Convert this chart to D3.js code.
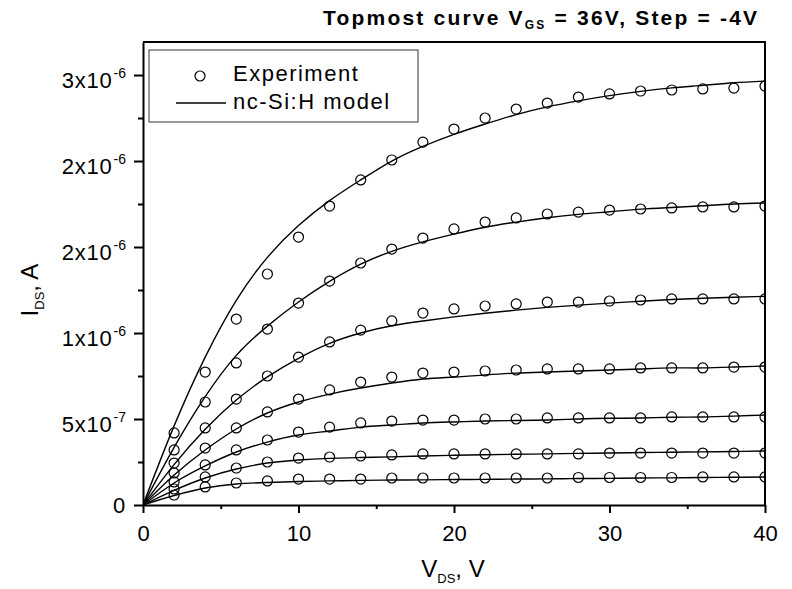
<!DOCTYPE html>
<html>
<head>
<meta charset="utf-8">
<script src="https://cdn.jsdelivr.net/npm/d3@7"></script>
<style>
  body { margin: 0; background: #fff; }
  svg { display: block; font-family: 'Liberation Sans', Arial, sans-serif; }
</style>
</head>
<body>
<script>
// drain voltage of the measured points, V
const vdsExp = [2, 4, 6, 8, 10, 12, 14, 16, 18, 20, 22, 24, 26, 28, 30, 32, 34, 36, 38, 40]
// measured drain current, uA (VGS = 36, 32, ... 12 V)
const exp36 = [0.419, 0.773, 1.081, 1.343, 1.558, 1.738, 1.890, 2.006, 2.110, 2.186, 2.250, 2.302, 2.337, 2.372, 2.390, 2.407, 2.413, 2.419, 2.424, 2.436]
const exp32 = [0.320, 0.599, 0.826, 1.023, 1.174, 1.302, 1.407, 1.488, 1.552, 1.605, 1.645, 1.669, 1.692, 1.703, 1.715, 1.721, 1.727, 1.733, 1.733, 1.738]
const exp28 = [0.244, 0.448, 0.616, 0.750, 0.860, 0.948, 1.017, 1.070, 1.116, 1.140, 1.157, 1.169, 1.180, 1.180, 1.186, 1.192, 1.198, 1.198, 1.198, 1.198]
const exp24 = [0.186, 0.331, 0.448, 0.541, 0.616, 0.669, 0.715, 0.744, 0.767, 0.773, 0.779, 0.785, 0.791, 0.791, 0.791, 0.797, 0.797, 0.797, 0.802, 0.802]
const exp20 = [0.134, 0.233, 0.320, 0.378, 0.424, 0.453, 0.477, 0.488, 0.494, 0.494, 0.500, 0.500, 0.506, 0.506, 0.506, 0.506, 0.512, 0.512, 0.512, 0.512]
const exp16 = [0.093, 0.163, 0.215, 0.250, 0.273, 0.279, 0.285, 0.291, 0.297, 0.297, 0.297, 0.297, 0.297, 0.297, 0.302, 0.302, 0.302, 0.302, 0.302, 0.302]
const exp12 = [0.058, 0.105, 0.128, 0.140, 0.151, 0.151, 0.151, 0.157, 0.157, 0.157, 0.157, 0.157, 0.157, 0.160, 0.160, 0.160, 0.160, 0.163, 0.163, 0.163]

// model curves, uA
const vdsModel = [0, 2, 4, 6, 8, 10, 12, 14, 16, 18, 20, 22, 24, 26, 28, 30, 32, 34, 36, 38, 40]
const mod36 = [0, 0.46, 0.86, 1.19, 1.44, 1.625, 1.77, 1.89, 2.0, 2.085, 2.155, 2.215, 2.27, 2.315, 2.35, 2.38, 2.405, 2.425, 2.44, 2.455, 2.465]
const mod32 = [0, 0.335, 0.63, 0.87, 1.04, 1.18, 1.30, 1.40, 1.475, 1.53, 1.575, 1.615, 1.645, 1.67, 1.69, 1.705, 1.72, 1.73, 1.74, 1.75, 1.756]
const mod28 = [0, 0.235, 0.44, 0.61, 0.745, 0.853, 0.94, 1.0, 1.042, 1.07, 1.094, 1.115, 1.133, 1.149, 1.162, 1.174, 1.185, 1.195, 1.202, 1.208, 1.213]
const mod24 = [0, 0.174, 0.320, 0.442, 0.535, 0.599, 0.645, 0.680, 0.709, 0.733, 0.744, 0.756, 0.767, 0.773, 0.779, 0.785, 0.791, 0.797, 0.797, 0.802, 0.808]
const mod20 = [0, 0.128, 0.227, 0.308, 0.366, 0.407, 0.430, 0.453, 0.465, 0.477, 0.483, 0.488, 0.491, 0.494, 0.500, 0.504, 0.506, 0.510, 0.512, 0.517, 0.523]
const mod16 = [0, 0.085, 0.157, 0.209, 0.244, 0.262, 0.271, 0.276, 0.280, 0.285, 0.289, 0.292, 0.295, 0.297, 0.300, 0.302, 0.305, 0.307, 0.309, 0.311, 0.314]
const mod12 = [0, 0.055, 0.099, 0.122, 0.131, 0.137, 0.140, 0.143, 0.145, 0.146, 0.148, 0.149, 0.151, 0.152, 0.154, 0.155, 0.157, 0.158, 0.160, 0.161, 0.163]

const expSeries = [exp36, exp32, exp28, exp24, exp20, exp16, exp12]
const modSeries = [mod36, mod32, mod28, mod24, mod20, mod16, mod12]

// axis ticks
const xMajor = [0, 10, 20, 30, 40]
const xMinor = [5, 15, 25, 35]
const yMajor = [0, 0.5e-6, 1e-6, 1.5e-6, 2e-6, 2.5e-6]
const yMinor = [0.25e-6, 0.75e-6, 1.25e-6, 1.75e-6, 2.25e-6]
const yTickBase = ['0', '5x10', '1x10', '2x10', '2x10', '3x10']
const yTickExp = ['', '-7', '-6', '-6', '-6', '-6']

const width = 792
const height = 589
const plotLeft = 143
const plotRight = 765
const plotTop = 42
const plotBottom = 505

const x = d3.scaleLinear().domain([0, 40]).range([plotLeft, plotRight])
const y = d3.scaleLinear().domain([0, 2.692e-6]).range([plotBottom, plotTop])

const svg = d3.select('body').append('svg')
  .attr('width', width)
  .attr('height', height)

svg.append('defs').append('clipPath').attr('id', 'plot')
  .append('rect')
  .attr('x', plotLeft).attr('y', plotTop)
  .attr('width', plotRight - plotLeft).attr('height', plotBottom - plotTop)

const plot = svg.append('g').attr('clip-path', 'url(#plot)')

const line = d3.line()
  .x((d, i) => x(vdsModel[i]))
  .y(d => y(d * 1e-6))
  .curve(d3.curveNatural)

plot.selectAll('path.model')
  .data(modSeries)
  .enter()
  .append('path')
  .attr('class', 'model')
  .attr('d', line)
  .attr('fill', 'none')
  .attr('stroke', '#000')
  .attr('stroke-width', 1.4)

expSeries.forEach(s => {
  plot.append('g').selectAll('circle')
    .data(s)
    .enter()
    .append('circle')
    .attr('cx', (d, i) => x(vdsExp[i]))
    .attr('cy', d => y(d * 1e-6))
    .attr('r', 5)
    .attr('fill', 'none')
    .attr('stroke', '#000')
    .attr('stroke-width', 1.2)
})

// frame top / right
svg.append('path')
  .attr('d', `M${plotLeft},${plotTop}H${plotRight}V${plotBottom}`)
  .attr('fill', 'none')
  .attr('stroke', '#000')
  .attr('stroke-width', 2)

// minor ticks first, majors on top
svg.append('g')
  .attr('transform', `translate(0,${plotBottom})`)
  .call(d3.axisBottom(x).tickValues(xMinor).tickSize(4).tickFormat(''))
  .call(g => g.select('.domain').remove())
svg.append('g')
  .attr('transform', `translate(${plotLeft},0)`)
  .call(d3.axisLeft(y).tickValues(yMinor).tickSize(5).tickFormat(''))
  .call(g => g.select('.domain').remove())

const xAxis = svg.append('g')
  .attr('transform', `translate(0,${plotBottom})`)
  .call(d3.axisBottom(x).tickValues(xMajor).tickSize(8).tickSizeOuter(0).tickPadding(12))
xAxis.selectAll('text')
  .attr('font-size', 22)
  .attr('font-family', 'Liberation Sans, Arial, sans-serif')
  .attr('fill', '#000')

const yAxis = svg.append('g')
  .attr('transform', `translate(${plotLeft},0)`)
  .call(d3.axisLeft(y).tickValues(yMajor).tickSize(9).tickSizeOuter(0).tickPadding(8))
yAxis.selectAll('text')
  .attr('font-size', 22)
  .attr('font-family', 'Liberation Sans, Arial, sans-serif')
  .attr('fill', '#000')
  .attr('dy', (d, i) => yTickExp[i] ? '12px' : '7px')
  .text('')
  .each(function (d, i) {
    const t = d3.select(this)
    t.append('tspan').attr('letter-spacing', 0.8).text(yTickBase[i])
    if (yTickExp[i]) {
      t.append('tspan').attr('font-size', 14).attr('dy', -10).attr('dx', 1).text(yTickExp[i])
    }
  })

svg.selectAll('.domain, .tick line').attr('stroke', '#000').attr('stroke-width', 2)

// axis titles
const xt = svg.append('text')
  .attr('x', 453)
  .attr('y', 577)
  .attr('text-anchor', 'middle')
  .attr('font-size', 24)
xt.append('tspan').text('V')
xt.append('tspan').attr('font-size', 13).attr('dy', 6).text('DS')
xt.append('tspan').attr('dy', -6).text(', V')

const yt = svg.append('text')
  .attr('transform', 'translate(38,290) rotate(-90)')
  .attr('text-anchor', 'middle')
  .attr('font-size', 24)
yt.append('tspan').text('I')
yt.append('tspan').attr('font-size', 13).attr('dy', 6).text('DS')
yt.append('tspan').attr('dy', -6).text(', A')

// title
const title = svg.append('text')
  .attr('x', 323)
  .attr('y', 25)
  .attr('font-size', 21)
  .attr('font-weight', 'bold')
  .attr('letter-spacing', 2.2)
title.append('tspan').text('Topmost curve V')
title.append('tspan').attr('font-size', 12).attr('dy', 4).text('GS')
title.append('tspan').attr('dy', -4).text(' = 36V, Step = -4V')

// legend
const legend = svg.append('g')
legend.append('rect')
  .attr('x', 149).attr('y', 50)
  .attr('width', 269).attr('height', 72)
  .attr('fill', '#fff')
  .attr('stroke', '#333')
  .attr('stroke-width', 1)
legend.append('circle')
  .attr('cx', 200).attr('cy', 76).attr('r', 5)
  .attr('fill', 'none').attr('stroke', '#000').attr('stroke-width', 1.2)
legend.append('line')
  .attr('x1', 176).attr('x2', 226)
  .attr('y1', 103).attr('y2', 103)
  .attr('stroke', '#000').attr('stroke-width', 1.4)
legend.append('text')
  .attr('x', 233).attr('y', 81)
  .attr('font-size', 22).attr('letter-spacing', 1.5)
  .text('Experiment')
legend.append('text')
  .attr('x', 233).attr('y', 109)
  .attr('font-size', 22).attr('letter-spacing', 1.5)
  .text('nc-Si:H model')
</script>
</body>
</html>
